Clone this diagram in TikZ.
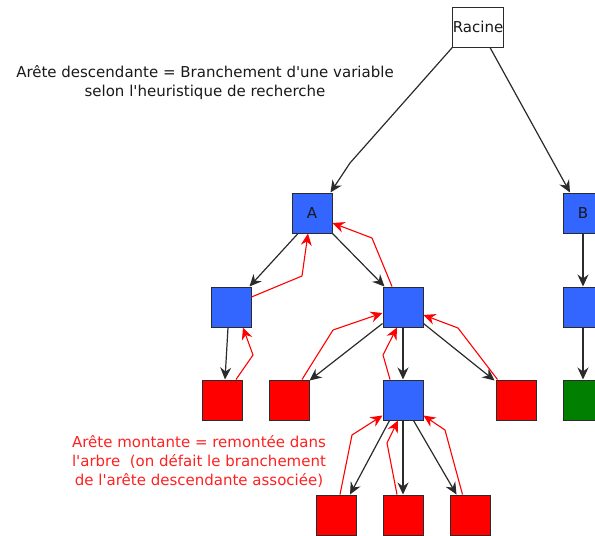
\documentclass[tikz,border=0pt]{standalone}
\usepackage{fontspec}
\setmainfont{DejaVu Sans}[Ligatures=TeXOff]
\usetikzlibrary{arrows.meta,calc}
\definecolor{nodeblue}{HTML}{3366FF}
\definecolor{edgegray}{HTML}{2B2B2B}
\definecolor{solgreen}{HTML}{007F00}
\definecolor{failred}{HTML}{FF0000}
\definecolor{notered}{HTML}{FF2020}
\begin{document}
\begin{tikzpicture}[x=1pt,y=-1pt,
  box/.style={draw=edgegray,line width=1pt,minimum size=40pt,inner sep=0pt,
    text=black!90,font=\fontsize{15}{19}\selectfont},
  rootbox/.style={box,fill=white},
  varbox/.style={box,fill=nodeblue},
  failbox/.style={box,fill=failred},
  solbox/.style={box,fill=solgreen},
  down/.style={draw=edgegray,line width=1.2pt,
    -{Stealth[length=12pt,width=11pt,inset=4pt]}},
  up/.style={draw=failred,line width=1.1pt,
    -{Stealth[length=12pt,width=11pt,inset=4pt]}},
  note/.style={align=center,inner sep=0pt,font=\fontsize{15}{19}\selectfont}
]
\useasboundingbox (0,0) rectangle (595,536);

% search tree nodes
\node[rootbox] (root) at (478,27) {Racine};
\node[varbox]  (A)    at (312,213) {A};
\node[varbox]  (B)    at (583,213) {B};
\node[varbox]  (L1)   at (231,307) {};
\node[varbox]  (R1)   at (403,307) {};
\node[varbox]  (B1)   at (583,307) {};
\node[failbox] (f1)   at (222,400) {};
\node[failbox] (f2)   at (289,400) {};
\node[varbox]  (M)    at (403,400) {};
\node[failbox] (f3)   at (516,400) {};
\node[solbox]  (sol)  at (583,400) {};
\node[failbox] (g1)   at (336,515) {};
\node[failbox] (g2)   at (403,515) {};
\node[failbox] (g3)   at (470,515) {};

% captions
\node[note,text=black!90] (capdown) at (205,83)
  {Arête descendante = Branchement d'une variable\\selon l'heuristique de recherche};
\node[note,text=notered] (capup) at (199,461)
  {Arête montante = remontée dans\\l'arbre\ \ (on défait le branchement\\de l'arête descendante associée)};

% branching edges
\draw[down] (root.south west) -- (350,163) -- ($(A.north east)+(-2,0)$);
\draw[down] ($(root.south)+(12,0)$) -- ($(B.north)+(-13,0)$);
\draw[down] ($(A.south)+(-14,0)$) -- ($(L1.north east)+(-2,0)$);
\draw[down] (A.south east) -- ($(R1.north west)+(2,0)$);
\draw[down] ($(L1.south)+(-3,0)$) -- ($(f1.north)+(3,0)$);
\draw[down] ($(R1.south west)+(0,-4)$) -- ($(f2.north east)+(0,1)$);
\draw[down] (R1.south) -- (M.north);
\draw[down] ($(R1.south east)+(0,-4)$) -- ($(f3.north west)+(-1,1)$);
\draw[down] ($(M.south west)+(7,0)$) -- ($(g1.north)+(14,0)$);
\draw[down] (M.south) -- (g2.north);
\draw[down] ($(M.south east)+(-10,0)$) -- ($(g3.north west)+(7,0)$);
\draw[down] (B.south) -- (B1.north);
\draw[down] (B1.south) -- (sol.north);

% backtracking edges
\draw[up] ($(L1.east)+(0,-10)$) -- (302,276) -- ($(A.south)+(-4,0)$);
\draw[up] ($(R1.north)+(-11,0)$) -- (372,238) -- ($(A.east)+(0,10)$);
\draw[up] ($(f1.north)+(14,0)$) -- (253,355) -- ($(L1.south)+(12,0)$);
\draw[up] ($(f2.north)+(13,0)$) -- (333,330) -- ($(R1.west)+(0,6)$);
\draw[up] ($(M.north)+(-13,0)$) -- (383,355) -- ($(R1.south)+(-6,0)$);
\draw[up] ($(f3.north west)+(2,0)$) -- (458,328) -- ($(R1.east)+(0,8)$);
\draw[up] ($(g1.north)+(4,0)$) -- (352,435) -- ($(M.south west)+(0,-5)$);
\draw[up] ($(g2.north)+(-6,0)$) -- (387,443) -- ($(M.south)+(-5,0)$);
\draw[up] ($(g3.north west)+(13,0)$) -- (445,430) -- ($(M.south east)+(0,-5)$);
\end{tikzpicture}
\end{document}
